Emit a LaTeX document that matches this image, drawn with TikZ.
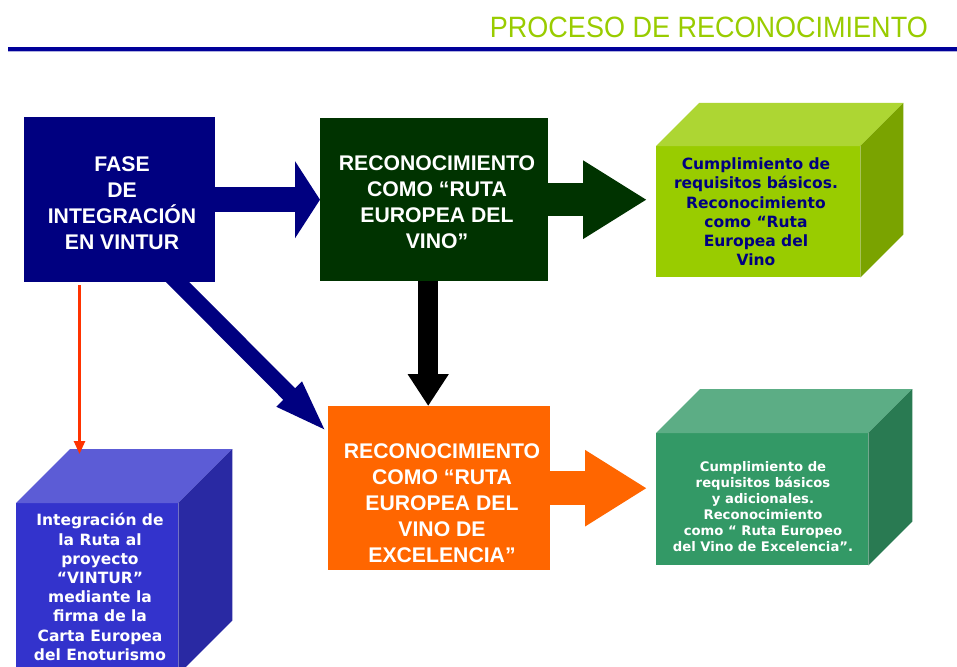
\documentclass[tikz,border=0pt]{standalone}
\usepackage{fontspec}
\setmainfont{Liberation Sans}
\newfontfamily\verdfont{DejaVu Sans}
\usetikzlibrary{arrows.meta,calc,backgrounds}
\definecolor{navyb}{HTML}{000080}
\definecolor{dkgreen}{HTML}{003300}
\definecolor{orangeb}{HTML}{FF6600}
\definecolor{titlegreen}{HTML}{99CC00}
\definecolor{lineblue}{HTML}{000099}
\definecolor{lineblue2}{HTML}{B0B0E0}
\definecolor{redc}{HTML}{FF3300}
\definecolor{lgfront}{HTML}{99CC00}
\definecolor{lgtop}{HTML}{ADD633}
\definecolor{lgright}{HTML}{7AA300}
\definecolor{gcfront}{HTML}{339966}
\definecolor{gctop}{HTML}{5CAD85}
\definecolor{gcright}{HTML}{297A52}
\definecolor{bcfront}{HTML}{3333CC}
\definecolor{bctop}{HTML}{5C5CD6}
\definecolor{bcright}{HTML}{2929A3}
\tikzset{
  mainbox/.style={rectangle, draw=none, anchor=north west, inner sep=0pt},
  maintext/.style={text=white, align=center, inner sep=0pt,
    font=\bfseries\fontsize{21.2}{26}\selectfont},
  cubefront/.style={rectangle, draw=none, anchor=north west, inner sep=0pt},
  cubetext/.style={align=center, inner sep=0pt},
  bigarrow/.style={draw, line cap=butt},
}
\begin{document}
\begin{tikzpicture}[x=1pt,y=-1pt]
\useasboundingbox (0,0) rectangle (957,666);

% title
\node[anchor=east, inner sep=0pt, text=titlegreen] (title) at (928,27)
  {\scalebox{0.965}[1.05]{\fontsize{28}{28}\selectfont PROCESO DE RECONOCIMIENTO}};
\fill[lineblue2] (8,50.5) rectangle (957,52);
\fill[lineblue] (8,46.7) rectangle (957,50.7);

% main boxes
\node[mainbox, fill=navyb, minimum width=191, minimum height=165] (fase) at (24,117) {};
\node[maintext] (fasetxt) at (122,203.5) {FASE\\DE\\INTEGRACIÓN\\EN VINTUR};
\node[mainbox, fill=dkgreen, minimum width=228, minimum height=163] (green) at (320,118) {};
\node[maintext] (greentxt) at (437,202) {RECONOCIMIENTO\\COMO “RUTA\\EUROPEA DEL\\VINO”};
\node[mainbox, fill=orangeb, minimum width=222, minimum height=164] (orange) at (328,406) {};
\node[maintext] (orangetxt) at (442,503.5) {RECONOCIMIENTO\\COMO “RUTA\\EUROPEA DEL\\VINO DE\\EXCELENCIA”};

% light green cube
\node[cubefront, fill=lgfront, minimum width=204, minimum height=131] (lgf) at (656,146) {};
\fill[lgtop] (lgf.north west) -- ++(43,-43) -- ($(lgf.north east)+(43,-43)$) -- (lgf.north east) -- cycle;
\fill[lgright] (lgf.north east) -- ++(43,-43) -- ($(lgf.south east)+(43,-43)$) -- (lgf.south east) -- cycle;
\node[cubetext, text=navyb, font=\verdfont\bfseries\fontsize{15.5}{19.2}\selectfont] (lgtxt) at (756,212)
  {Cumplimiento de\\requisitos básicos.\\Reconocimiento\\como “Ruta\\Europea del\\Vino};

% green cube
\node[cubefront, fill=gcfront, minimum width=212, minimum height=132] (gcf) at (656,433) {};
\fill[gctop] (gcf.north west) -- ++(44,-44) -- ($(gcf.north east)+(44,-44)$) -- (gcf.north east) -- cycle;
\fill[gcright] (gcf.north east) -- ++(44,-44) -- ($(gcf.south east)+(44,-44)$) -- (gcf.south east) -- cycle;
\node[cubetext, text=white, font=\verdfont\bfseries\fontsize{13.2}{16}\selectfont] (gctxt) at (763,507)
  {Cumplimiento de\\requisitos básicos\\y adicionales.\\Reconocimiento\\como “ Ruta Europeo\\del Vino de Excelencia”.};

% blue cube
\node[cubefront, fill=bcfront, minimum width=162, minimum height=171] (bcf) at (16,503) {};
\fill[bctop] (bcf.north west) -- ++(54,-54) -- ($(bcf.north east)+(54,-54)$) -- (bcf.north east) -- cycle;
\fill[bcright] (bcf.north east) -- ++(54,-54) -- ($(bcf.south east)+(54,-54)$) -- (bcf.south east) -- cycle;
\node[cubetext, text=white, font=\verdfont\bfseries\fontsize{15.5}{19.2}\selectfont] (bctxt) at (100,587)
  {Integración de\\la Ruta al\\proyecto\\“VINTUR”\\mediante la\\firma de la\\Carta Europea\\del Enoturismo};

% helper coordinates
\coordinate (diagA) at ($(fase.south west)+(146,-8)$);
\coordinate (diagB) at ($(orange.north west)+(0,27)$);
\coordinate (blkA) at ($(green.south)+(-6,-2)$);
\coordinate (redA) at ($(fase.south west)+(55.5,3)$);
\coordinate (redB) at ($(bcf.north west)+(63.5,-49)$);

\begin{pgfonlayer}{background}
\fill[white] (0,0) rectangle (957,666);
\draw[bigarrow, navyb, line width=25, -{Triangle[length=25,width=76]}] (fase.east) -- (green.west);
\draw[bigarrow, dkgreen, line width=33, -{Triangle[length=64,width=74]}, shorten >=9]
  (green.east) -- (green.east -| lgf.west);
\draw[bigarrow, black, line width=20, -{Triangle[length=32,width=39]}] (blkA) -- (blkA |- orange.north);
\draw[bigarrow, orangeb, line width=34, -{Triangle[length=62,width=72]}, shorten >=9]
  (orange.east) -- (orange.east -| gcf.west);
\draw[bigarrow, navyb, line width=16.5, -{Triangle[length=55,width=31]}] (diagA) -- (diagB);
\end{pgfonlayer}

\draw[redc, line width=2.5, -{Triangle[length=13,width=11]}] (redA) -- (redB);
\end{tikzpicture}
\end{document}
